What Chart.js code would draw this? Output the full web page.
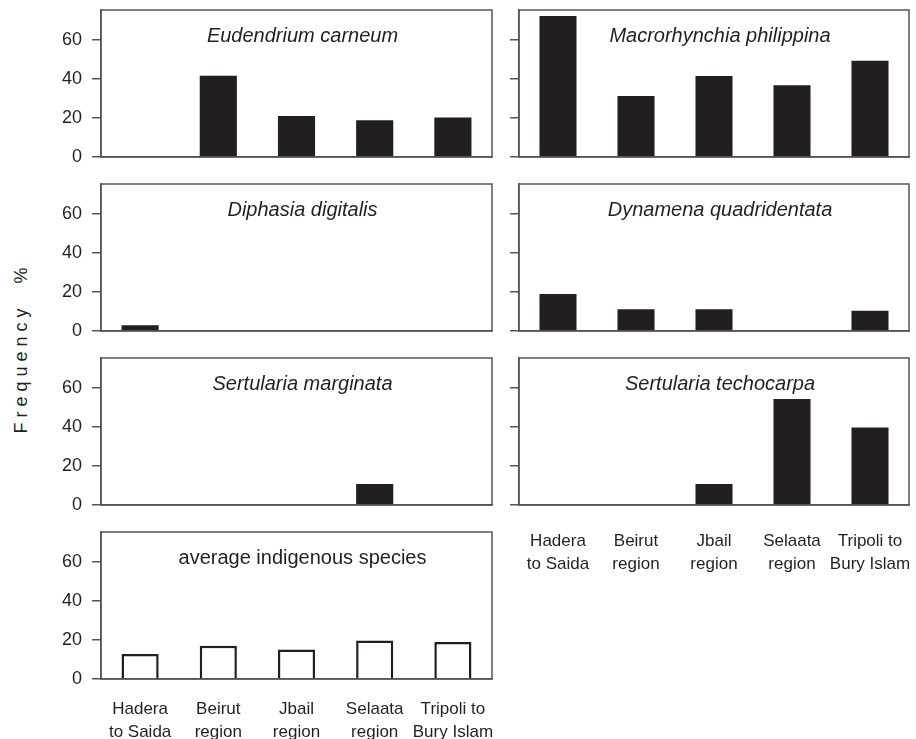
<!DOCTYPE html>
<html>
<head>
<meta charset="utf-8">
<script src="https://cdn.jsdelivr.net/npm/chart.js@4.4.1/dist/chart.umd.min.js"></script>
<style>
  html, body { margin: 0; padding: 0; background: #fff; }
  body { width: 916px; height: 739px; position: relative; overflow: hidden; font-family: "Liberation Sans", Arial, sans-serif; }
  .panel { position: absolute; }
  #ytitle {
    position: absolute; left: 21px; top: 348px;
    transform: translate(-50%, -50%) rotate(-90deg);
    font-size: 18px; letter-spacing: 5px; white-space: nowrap; color: #231f20;
  }
</style>
</head>
<body>
<div id="ytitle">Frequency&nbsp;&nbsp;%</div>
<script>
// categories (x axis)
const regions = [
  ["Hadera", "to Saida"],
  ["Beirut", "region"],
  ["Jbail", "region"],
  ["Selaata", "region"],
  ["Tripoli to", "Bury Islam"],
];

// frequency % per species
const eudendriumCarneum = [0, 41.7, 21, 18.8, 20.2];
const macrorhynchiaPhilippina = [72.3, 31.3, 41.5, 36.8, 49.4];
const diphasiaDigitalis = [2.9, 0, 0, 0, 0];
const dynamenaQuadridentata = [19, 11.1, 11.1, 0, 10.4];
const sertulariaMarginata = [0, 0, 0, 10.8, 0];
const sertulariaTechocarpa = [0, 0, 10.8, 54.4, 39.8];
const averageIndigenous = [12.8, 17.1, 15.1, 19.8, 19];

const yTicks = [0, 20, 40, 60];
const Y_MAX = 75.4;

const INK = "#231f20";
const FRAME = "#555";
const FONT = '"Liberation Sans", Arial, sans-serif';

const colLeft = [101, 519];
const colWidth = [391, 390];
const rowTop = [10, 184, 358, 532];
const PLOT_H = 147;
const Y_AXIS_W = 60;

const panels = [
  { title: "Eudendrium carneum", data: eudendriumCarneum, col: 0, row: 0, italic: true },
  { title: "Macrorhynchia philippina", data: macrorhynchiaPhilippina, col: 1, row: 0, italic: true },
  { title: "Diphasia digitalis", data: diphasiaDigitalis, col: 0, row: 1, italic: true },
  { title: "Dynamena quadridentata", data: dynamenaQuadridentata, col: 1, row: 1, italic: true },
  { title: "Sertularia marginata", data: sertulariaMarginata, col: 0, row: 2, italic: true },
  { title: "Sertularia techocarpa", data: sertulariaTechocarpa, col: 1, row: 2, italic: true, xLabels: true, xPad: 25 },
  { title: "average indigenous species", data: averageIndigenous, col: 0, row: 3, italic: false, xLabels: true, xPad: 19, open: true },
];

// box around the plot area + title inside it
const frameBox = {
  id: "frameBox",
  afterDraw(chart, args, opts) {
    const { ctx, chartArea: a } = chart;
    ctx.save();
    ctx.strokeStyle = FRAME;
    ctx.lineWidth = 1.5;
    ctx.strokeRect(a.left, a.top, a.right - a.left, a.bottom - a.top);
    ctx.fillStyle = INK;
    ctx.font = (opts.italic ? "italic " : "") + "20px " + FONT;
    ctx.textAlign = "center";
    ctx.textBaseline = "middle";
    ctx.fillText(opts.text, (a.left + a.right) / 2 + 6, a.top + 26);
    ctx.restore();
  },
};

// no auto padding for edge labels, fixed axis sizes
function noPad(s) {
  s.paddingTop = 0;
  s.paddingBottom = 0;
  s.paddingLeft = 0;
  s.paddingRight = 0;
}

panels.forEach((p) => {
  const xh = p.xLabels ? 70 : 14;
  const w = Y_AXIS_W + colWidth[p.col] + 2;
  const h = 2 + PLOT_H + xh;

  const div = document.createElement("div");
  div.className = "panel";
  div.style.left = colLeft[p.col] - Y_AXIS_W + "px";
  div.style.top = rowTop[p.row] - 2 + "px";
  div.style.width = w + "px";
  div.style.height = h + "px";
  const canvas = document.createElement("canvas");
  canvas.width = w;
  canvas.height = h;
  div.appendChild(canvas);
  document.body.appendChild(div);

  new Chart(canvas.getContext("2d"), {
    type: "bar",
    data: {
      labels: regions,
      datasets: [
        {
          data: p.data,
          backgroundColor: p.open ? "#fff" : INK,
          borderColor: INK,
          borderWidth: p.open ? 2.5 : 0,
          categoryPercentage: 1,
          barPercentage: 0.475,
        },
      ],
    },
    options: {
      responsive: false,
      animation: false,
      devicePixelRatio: 1,
      layout: { padding: { top: 2, right: 2, left: 0, bottom: 0 } },
      plugins: {
        legend: { display: false },
        tooltip: { enabled: false },
        frameBox: { text: p.title, italic: p.italic },
      },
      scales: {
        x: {
          grid: { display: false, drawTicks: false },
          border: { display: true, color: FRAME, width: 1.5 },
          ticks: {
            display: !!p.xLabels,
            padding: p.xPad || 0,
            color: INK,
            maxRotation: 0,
            autoSkip: false,
            font: { family: FONT, size: 17, lineHeight: 1.35 },
          },
          afterFit: (s) => { s.height = xh; noPad(s); },
        },
        y: {
          min: 0,
          max: Y_MAX,
          afterBuildTicks: (s) => { s.ticks = yTicks.map((v) => ({ value: v })); },
          grid: { display: true, drawOnChartArea: false, drawTicks: true, tickLength: 9, color: FRAME, lineWidth: 1.5 },
          border: { display: true, color: FRAME, width: 1.5 },
          ticks: {
            padding: 10,
            color: INK,
            font: { family: FONT, size: 18 },
            callback: p.col === 0 ? (v) => v : () => "",
          },
          afterFit: (s) => { s.width = Y_AXIS_W; noPad(s); },
        },
      },
    },
    plugins: [frameBox],
  });
});
</script>
</body>
</html>
